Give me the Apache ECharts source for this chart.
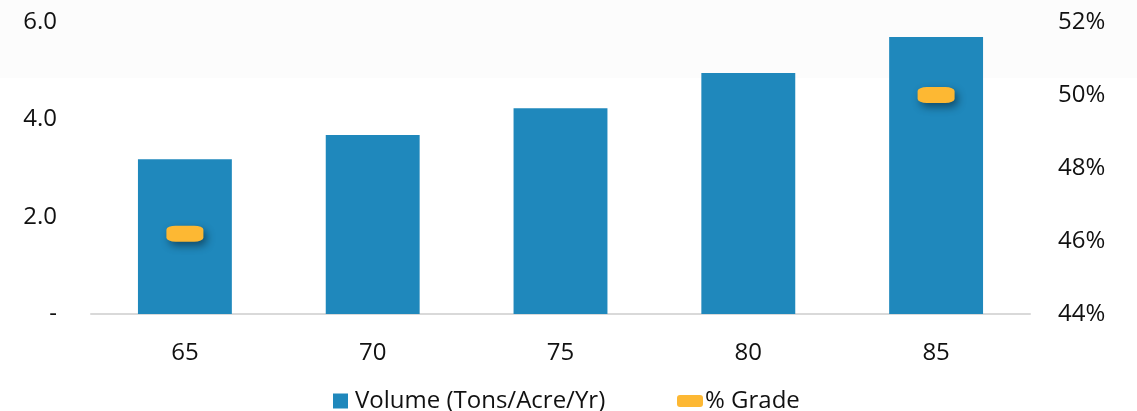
<!DOCTYPE html>
<html>
<head>
<meta charset="utf-8">
<script src="https://cdn.jsdelivr.net/npm/echarts@6/dist/echarts.min.js"></script>
<style>
  html, body { margin: 0; padding: 0; background: #ffffff; }
  #chart { width: 1137px; height: 411px; }
</style>
</head>
<body>
<div id="chart"></div>
<script>
// Stand age categories
const categories = ['65', '70', '75', '80', '85'];
// Volume in tons per acre per year
const volumeValues = [3.18, 3.68, 4.23, 4.95, 5.69];
// Percentage grade (only reported for some ages)
const gradeValues = [46.2, null, null, null, 50.0];

const FONT = '"Open Sans", "Noto Sans", sans-serif';
const TEXT = '#111111';
const FS = 24;

const chart = echarts.init(document.getElementById('chart'), null, { renderer: 'canvas' });

chart.setOption({
  animation: false,
  backgroundColor: '#ffffff',
  textStyle: { fontFamily: FONT },
  graphic: [{
    type: 'rect',
    z: -10,
    silent: true,
    shape: { x: 0, y: 0, width: 1137, height: 78 },
    style: { fill: '#fcfcfc' }
  }],
  grid: { left: 91, right: 107, top: 22, bottom: 97, containLabel: false },
  legend: [{
    left: 328, top: 384,
    itemWidth: 15, itemHeight: 15, itemGap: 10,
    textStyle: { fontFamily: FONT, fontSize: FS, color: TEXT, padding: [0, 0, 0, 2] },
    data: [{ name: 'Volume (Tons/Acre/Yr)', icon: 'rect' }]
  }, {
    left: 672, top: 384,
    itemWidth: 26, itemHeight: 12,
    textStyle: { fontFamily: FONT, fontSize: FS, color: TEXT, padding: [0, 0, 0, -3] },
    data: [{ name: '% Grade', icon: 'roundRect' }]
  }],
  xAxis: {
    type: 'category',
    data: categories,
    axisLine: { show: true, lineStyle: { color: '#d9d9d9', width: 2 } },
    axisTick: { show: false },
    axisLabel: { color: TEXT, fontSize: FS, fontFamily: FONT, margin: 27 }
  },
  yAxis: [{
    type: 'value',
    min: 0, max: 6, interval: 2,
    splitLine: { show: false },
    axisLine: { show: false },
    axisTick: { show: false },
    axisLabel: {
      color: TEXT, fontSize: FS, fontFamily: FONT, margin: 34,
      formatter: v => v === 0 ? '-' : v.toFixed(1)
    }
  }, {
    type: 'value',
    min: 44, max: 52, interval: 2,
    splitLine: { show: false },
    axisLine: { show: false },
    axisTick: { show: false },
    axisLabel: {
      color: TEXT, fontSize: FS, fontFamily: FONT, margin: 28,
      formatter: v => v + '%'
    }
  }],
  series: [{
    name: 'Volume (Tons/Acre/Yr)',
    type: 'bar',
    yAxisIndex: 0,
    barWidth: '50%',
    data: volumeValues,
    itemStyle: { color: '#1f88bc' }
  }, {
    name: '% Grade',
    type: 'scatter',
    yAxisIndex: 1,
    symbol: 'roundRect',
    symbolSize: [37, 16],
    data: gradeValues,
    z: 5,
    itemStyle: {
      color: '#fdb833',
      opacity: 1,
      shadowColor: 'rgba(0,0,0,0.45)',
      shadowBlur: 8,
      shadowOffsetX: 3,
      shadowOffsetY: 4
    }
  }]
});
</script>
</body>
</html>
